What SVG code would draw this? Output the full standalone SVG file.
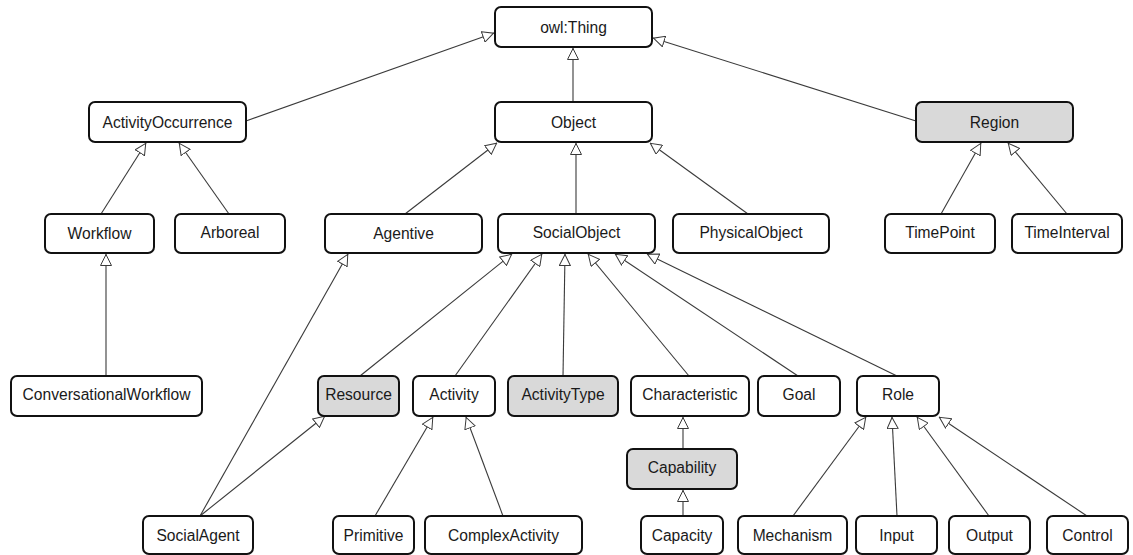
<svg xmlns="http://www.w3.org/2000/svg" width="1133" height="555" viewBox="0 0 1133 555">
<style>
.n rect{fill:#fff;stroke:#111;stroke-width:2}
.g rect{fill:#d9d9d9}
.n text{font-family:"Liberation Sans",Arial,sans-serif;font-size:15.6px;fill:#1a1a1a;text-anchor:middle}
#edges line{stroke:#3a3a3a;stroke-width:1.1;marker-end:url(#tri)}
</style>
<defs>
<marker id="tri" viewBox="0 0 12 12" refX="12" refY="6" markerWidth="12" markerHeight="12" markerUnits="userSpaceOnUse" orient="auto">
<path d="M0.5,0.5 L11.5,6 L0.5,11.5 Z" fill="#fff" stroke="#3a3a3a" stroke-width="1"/>
</marker>
</defs>
<rect width="1133" height="555" fill="#fff"/>
<g id="edges">
<line x1="246" y1="121" x2="494" y2="33"/>
<line x1="573" y1="102" x2="573" y2="48"/>
<line x1="916" y1="121" x2="653" y2="38"/>
<line x1="101" y1="214" x2="146" y2="143"/>
<line x1="229" y1="214" x2="179" y2="143"/>
<line x1="106" y1="376" x2="106" y2="254"/>
<line x1="405" y1="214" x2="497" y2="143"/>
<line x1="576" y1="214" x2="576" y2="143"/>
<line x1="748" y1="214" x2="650" y2="143"/>
<line x1="941" y1="214" x2="981" y2="143"/>
<line x1="1067" y1="214" x2="1008" y2="143"/>
<line x1="200" y1="516" x2="348" y2="254"/>
<line x1="200" y1="516" x2="325" y2="416"/>
<line x1="360" y1="376" x2="512" y2="254"/>
<line x1="455" y1="376" x2="542" y2="254"/>
<line x1="563" y1="376" x2="565" y2="254"/>
<line x1="689" y1="376" x2="588" y2="254"/>
<line x1="798" y1="376" x2="615" y2="254"/>
<line x1="897" y1="376" x2="647" y2="254"/>
<line x1="375" y1="516" x2="433" y2="417"/>
<line x1="503" y1="516" x2="466" y2="417"/>
<line x1="683" y1="449" x2="683" y2="417"/>
<line x1="683" y1="516" x2="683" y2="490"/>
<line x1="793" y1="516" x2="866" y2="417"/>
<line x1="897" y1="516" x2="892" y2="417"/>
<line x1="989" y1="516" x2="917" y2="417"/>
<line x1="1087" y1="516" x2="939" y2="417"/>
</g>
<g id="owlThing" class="n"><rect x="495" y="7" width="157" height="40" rx="6"/><text x="573.5" y="32.5">owl:Thing</text></g>
<g id="ActivityOccurrence" class="n"><rect x="89" y="102" width="157" height="40" rx="6"/><text x="167.5" y="127.5">ActivityOccurrence</text></g>
<g id="Object" class="n"><rect x="495" y="102" width="157" height="40" rx="6"/><text x="573.5" y="127.5">Object</text></g>
<g id="Region" class="n g"><rect x="916" y="102" width="157" height="40" rx="6"/><text x="994.5" y="127.5">Region</text></g>
<g id="Workflow" class="n"><rect x="45" y="214" width="109" height="39" rx="6"/><text x="99.5" y="239">Workflow</text></g>
<g id="Arboreal" class="n"><rect x="175" y="214" width="110" height="39" rx="6"/><text x="230" y="238">Arboreal</text></g>
<g id="Agentive" class="n"><rect x="325" y="214" width="157" height="39" rx="6"/><text x="403.5" y="239">Agentive</text></g>
<g id="SocialObject" class="n"><rect x="498" y="214" width="157" height="39" rx="6"/><text x="576.5" y="238">SocialObject</text></g>
<g id="PhysicalObject" class="n"><rect x="673" y="214" width="156" height="39" rx="6"/><text x="751" y="238">PhysicalObject</text></g>
<g id="TimePoint" class="n"><rect x="885" y="214" width="110" height="39" rx="6"/><text x="940" y="238">TimePoint</text></g>
<g id="TimeInterval" class="n"><rect x="1012" y="214" width="110" height="39" rx="6"/><text x="1067" y="238">TimeInterval</text></g>
<g id="ConversationalWorkflow" class="n"><rect x="11" y="376" width="191" height="40" rx="6"/><text x="106.5" y="400">ConversationalWorkflow</text></g>
<g id="Resource" class="n g"><rect x="318" y="376" width="81" height="40" rx="6"/><text x="358.5" y="400">Resource</text></g>
<g id="Activity" class="n"><rect x="413" y="376" width="82" height="40" rx="6"/><text x="454" y="400">Activity</text></g>
<g id="ActivityType" class="n g"><rect x="508" y="376" width="110" height="40" rx="6"/><text x="563" y="400">ActivityType</text></g>
<g id="Characteristic" class="n"><rect x="631" y="376" width="118" height="40" rx="6"/><text x="690" y="400">Characteristic</text></g>
<g id="Goal" class="n"><rect x="758" y="376" width="82" height="40" rx="6"/><text x="799" y="400">Goal</text></g>
<g id="Role" class="n"><rect x="857" y="376" width="82" height="40" rx="6"/><text x="898" y="400">Role</text></g>
<g id="Capability" class="n g"><rect x="627" y="449" width="110" height="40" rx="6"/><text x="682" y="473">Capability</text></g>
<g id="SocialAgent" class="n"><rect x="143" y="516" width="110" height="38" rx="6"/><text x="198" y="541">SocialAgent</text></g>
<g id="Primitive" class="n"><rect x="333" y="516" width="81" height="38" rx="6"/><text x="373.5" y="541">Primitive</text></g>
<g id="ComplexActivity" class="n"><rect x="425" y="516" width="157" height="38" rx="6"/><text x="503.5" y="541">ComplexActivity</text></g>
<g id="Capacity" class="n"><rect x="641" y="516" width="82" height="38" rx="6"/><text x="682" y="541">Capacity</text></g>
<g id="Mechanism" class="n"><rect x="738" y="516" width="109" height="38" rx="6"/><text x="792.5" y="541">Mechanism</text></g>
<g id="Input" class="n"><rect x="856" y="516" width="81" height="38" rx="6"/><text x="896.5" y="541">Input</text></g>
<g id="Output" class="n"><rect x="949" y="516" width="81" height="38" rx="6"/><text x="989.5" y="541">Output</text></g>
<g id="Control" class="n"><rect x="1047" y="516" width="81" height="38" rx="6"/><text x="1087.5" y="541">Control</text></g>
</svg>
